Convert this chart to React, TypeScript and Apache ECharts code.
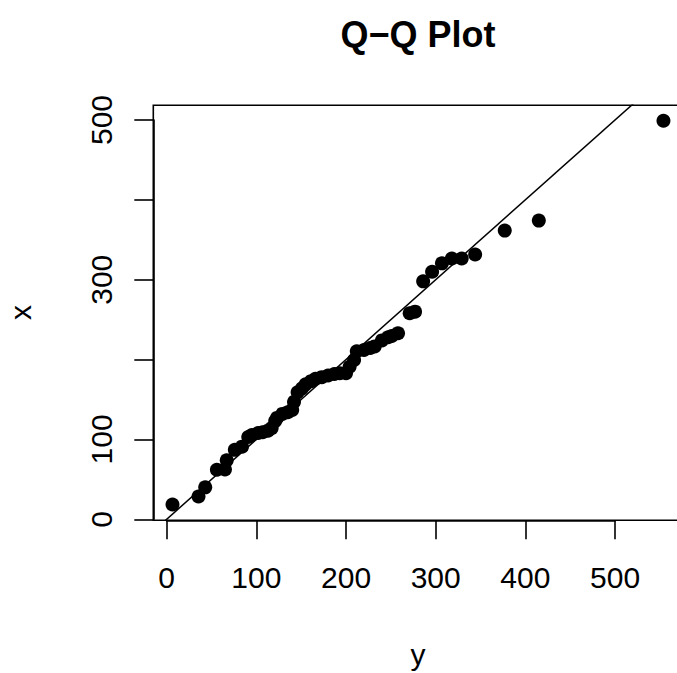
import React, { useEffect, useRef } from "react";
import * as echarts from "echarts";

// Sorted sample quantiles (horizontal axis "y", vertical axis "x")
const sampleY = [6.5, 35.5, 43, 56, 65, 67, 76, 84, 91, 95, 102, 107, 113, 117, 121, 123, 129, 135, 140, 142, 146, 151, 155, 161, 166, 173, 180, 187, 193, 200, 204, 209, 212, 220, 227, 232, 240, 247, 251, 258, 271, 277, 286, 296, 307, 318, 329, 344, 377, 415, 554];
const sampleX = [18.5, 28.5, 40, 62, 62.5, 74, 87, 91, 103, 105.5, 108, 109, 111, 114, 123, 127, 132, 134, 137, 147, 159, 164, 169, 173, 176, 178, 180, 182, 183, 183, 191, 199.5, 210.5, 212, 214.5, 216.5, 224, 228, 229.5, 233, 258, 260, 298, 310, 320.5, 326.5, 326.5, 331.5, 361.5, 374, 499];

// Reference line y = x
const refLine = [[-30, -30], [700, 700]];

const xTickLabels = ["0", "100", "200", "300", "400", "500"];
const yTickLabels = ["0", "100", "300", "500"];

const FONT = "'Liberation Sans', Arial, Helvetica, sans-serif";

export default function App() {
  const ref = useRef<HTMLDivElement>(null);
  useEffect(() => {
    if (!ref.current) return;
    const chart = echarts.init(ref.current, null, { renderer: "svg" });
    const points = sampleY.map((v, i) => [v, sampleX[i]]);
    const tickStyle = { show: true, inside: false, length: 19, lineStyle: { color: "#000", width: 1.6 } };
    const option: any = {
      animation: false,
      backgroundColor: "#fff",
      grid: [
        { left: 153.3, top: 105.3, width: 529.8, height: 415, show: true, borderColor: "#000", borderWidth: 1.6, backgroundColor: "transparent" },
        { left: 166.7, top: 105.3, width: 448.35, height: 415, show: false },
        { left: 153.3, top: 120, width: 529.8, height: 399.3, show: false },
      ],
      xAxis: [
        { gridIndex: 0, type: "value", min: -14.9, max: 575.9, show: false },
        {
          gridIndex: 1, type: "value", min: 0, max: 500, interval: 100,
          axisLine: { show: true, lineStyle: { color: "#000", width: 1.6 } },
          axisTick: tickStyle,
          splitLine: { show: false },
          axisLabel: {
            show: true, margin: 42, fontSize: 30, color: "#000", fontFamily: FONT,
            formatter: (v: number) => (xTickLabels.includes(String(v)) ? String(v) : ""),
          },
        },
        { gridIndex: 2, type: "value", min: 0, max: 1, show: false },
      ],
      yAxis: [
        { gridIndex: 0, type: "value", min: -1.25, max: 518.4, show: false },
        { gridIndex: 1, type: "value", min: 0, max: 1, show: false },
        {
          gridIndex: 2, type: "value", min: 0, max: 500, interval: 100,
          axisLine: { show: true, lineStyle: { color: "#000", width: 1.6 } },
          axisTick: tickStyle,
          splitLine: { show: false },
          axisLabel: {
            show: true, margin: 37, rotate: 90, fontSize: 30, color: "#000", fontFamily: FONT,
            formatter: (v: number) => (yTickLabels.includes(String(v)) ? String(v) : ""),
          },
        },
      ],
      series: [
        {
          type: "line", xAxisIndex: 0, yAxisIndex: 0, data: refLine, clip: true,
          showSymbol: false, symbol: "none", lineStyle: { color: "#000", width: 1.5 }, silent: true,
        },
        {
          type: "scatter", xAxisIndex: 0, yAxisIndex: 0, data: points, symbol: "circle",
          symbolSize: 14, itemStyle: { color: "#000", opacity: 1 }, clip: true,
        },
      ],
      graphic: [
        { type: "text", x: 418, y: 34, style: { text: "Q\u2212Q Plot", fontSize: 36, fontWeight: "bold", fontFamily: FONT, fill: "#000", align: "center", verticalAlign: "middle" } },
        { type: "text", x: 418, y: 654, style: { text: "y", fontSize: 30, fontFamily: FONT, fill: "#000", align: "center", verticalAlign: "middle" } },
        { type: "text", x: 20, y: 312.5, rotation: Math.PI / 2, style: { text: "x", fontSize: 30, fontFamily: FONT, fill: "#000", align: "center", verticalAlign: "middle" } },
      ],
    };
    chart.setOption(option);
    return () => chart.dispose();
  }, []);
  return (
    <div style={{ position: "fixed", left: 0, top: 0, width: 677, height: 673, overflow: "hidden", background: "#fff" }}>
      <div ref={ref} style={{ width: 700, height: 673 }} />
    </div>
  );
}
